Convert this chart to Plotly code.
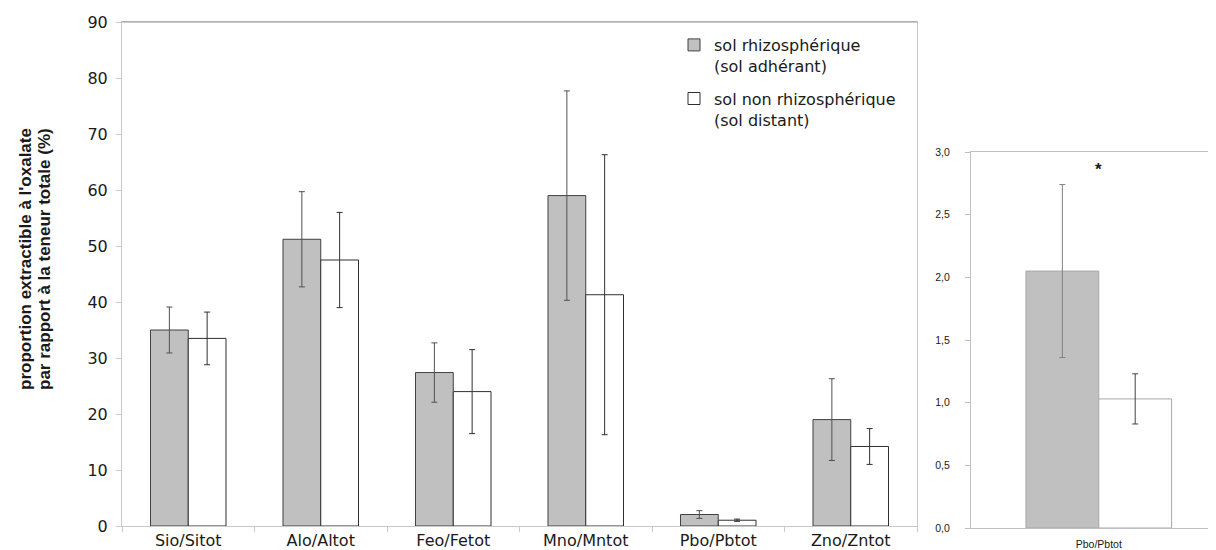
import plotly.graph_objects as go

categories = ["Sio/Sitot", "Alo/Altot", "Feo/Fetot", "Mno/Mntot", "Pbo/Pbtot", "Zno/Zntot"]
rhizo = [35.0, 51.2, 27.4, 59.0, 2.05, 19.0]
rhizo_err = [4.1, 8.5, 5.3, 18.7, 0.69, 7.3]
distant = [33.5, 47.5, 24.0, 41.3, 1.03, 14.2]
distant_err = [4.7, 8.5, 7.5, 25.0, 0.2, 3.2]

pb_category = ["Pbo/Pbtot"]
pb_rhizo = [2.05]
pb_rhizo_err = [0.69]
pb_distant = [1.03]
pb_distant_err = [0.2]

name_rhizo = "sol rhizosphérique<br>(sol adhérant)"
name_distant = "sol non rhizosphérique<br>(sol distant)"
ytitle_lines = ["proportion extractible à l'oxalate", "par rapport à la teneur totale (%)"]

FONT = "Liberation Sans, Arial, sans-serif"
WIDE = "DejaVu Sans, sans-serif"
TXT = "#1a1a1a"
W, H = 1216, 550
OFF = 8  # page body margin


def fx(px):
    return (px - OFF) / W


def fy(px):
    return (H - (px - OFF)) / H


fig = go.Figure()
fig.add_trace(go.Bar(
    x=categories, y=rhizo, name=name_rhizo, legendgroup="a",
    marker=dict(color="#c0c0c0", line=dict(color="#404040", width=1)),
    error_y=dict(type="data", array=rhizo_err, color="#505050", thickness=1, width=3),
    xaxis="x", yaxis="y"))
fig.add_trace(go.Bar(
    x=categories, y=distant, name=name_distant, legendgroup="b",
    marker=dict(color="#ffffff", line=dict(color="#303030", width=1)),
    error_y=dict(type="data", array=distant_err, color="#303030", thickness=1, width=3),
    xaxis="x", yaxis="y"))
fig.add_trace(go.Bar(
    x=pb_category, y=pb_rhizo, showlegend=False,
    marker=dict(color="#c0c0c0", line=dict(color="#a8a8a8", width=1)),
    error_y=dict(type="data", array=pb_rhizo_err, color="#808080", thickness=1, width=3),
    xaxis="x2", yaxis="y2"))
fig.add_trace(go.Bar(
    x=pb_category, y=pb_distant, showlegend=False,
    marker=dict(color="#ffffff", line=dict(color="#a8a8a8", width=1)),
    error_y=dict(type="data", array=pb_distant_err, color="#404040", thickness=1, width=3),
    xaxis="x2", yaxis="y2"))

fig.add_annotation(x=pb_category[0], y=2.86, xref="x2", yref="y2", text="<b>*</b>",
                   showarrow=False, font=dict(family=FONT, size=17, color=TXT))
for line, xc in zip(ytitle_lines, [25, 44]):
    fig.add_annotation(x=fx(xc), y=fy(259), xref="paper", yref="paper",
                       text="<b>" + line + "</b>",
                       textangle=-90, showarrow=False, xanchor="center", yanchor="middle",
                       font=dict(family=FONT, size=17, color=TXT))

# darker top frame line of the main plot area
fig.add_shape(type="line", xref="x domain", yref="y domain", x0=0, x1=1, y0=1, y1=1,
              line=dict(color="#999999", width=1))

fig.update_layout(
    width=W, height=H,
    margin=dict(l=0, r=0, t=0, b=0, autoexpand=False),
    paper_bgcolor="white", plot_bgcolor="white",
    barmode="group", bargap=0.43, bargroupgap=0,
    separators=", ",
    font=dict(family=FONT, color=TXT),
    showlegend=True,
    legend=dict(x=fx(674), y=fy(28), xanchor="left", yanchor="top",
                font=dict(family=WIDE, size=16, color=TXT), valign="top",
                traceorder="grouped", tracegroupgap=9,
                bgcolor="rgba(0,0,0,0)", itemwidth=30),
    xaxis=dict(domain=[fx(122), fx(917)], automargin=False, showline=True, linecolor="#c8c8c8",
               linewidth=1, mirror=True, ticks="outside", tickson="boundaries", ticklen=5,
               tickcolor="#c8c8c8", tickfont=dict(family=WIDE, size=16, color=TXT), showgrid=False),
    yaxis=dict(domain=[fy(526), fy(22)], automargin=False, range=[0, 90], dtick=10,
               showline=True, linecolor="#c8c8c8", linewidth=1, mirror=True,
               ticks="outside", ticklen=5, tickcolor="#c8c8c8", showgrid=False, zeroline=False,
               ticklabelstandoff=5, tickfont=dict(family=WIDE, size=16, color=TXT)),
    xaxis2=dict(domain=[fx(971), 1.0], anchor="y2", automargin=False, range=[-0.5, 0.49],
                showline=True, linecolor="#c0c0c0", linewidth=1, mirror=True, ticks="",
                ticklabelstandoff=6,
                tickfont=dict(family=FONT, size=10.5, color=TXT), showgrid=False),
    yaxis2=dict(domain=[fy(528), fy(152)], anchor="x2", automargin=False,
                range=[0, 3], dtick=0.5, tickformat=".1f", showline=True, linecolor="#c0c0c0",
                linewidth=1, mirror=False, ticks="outside", ticklen=5, tickcolor="#c0c0c0",
                ticklabelstandoff=13,
                showgrid=False, zeroline=False, tickfont=dict(family=FONT, size=10.5, color=TXT)),
)

fig.write_html("out.html")
